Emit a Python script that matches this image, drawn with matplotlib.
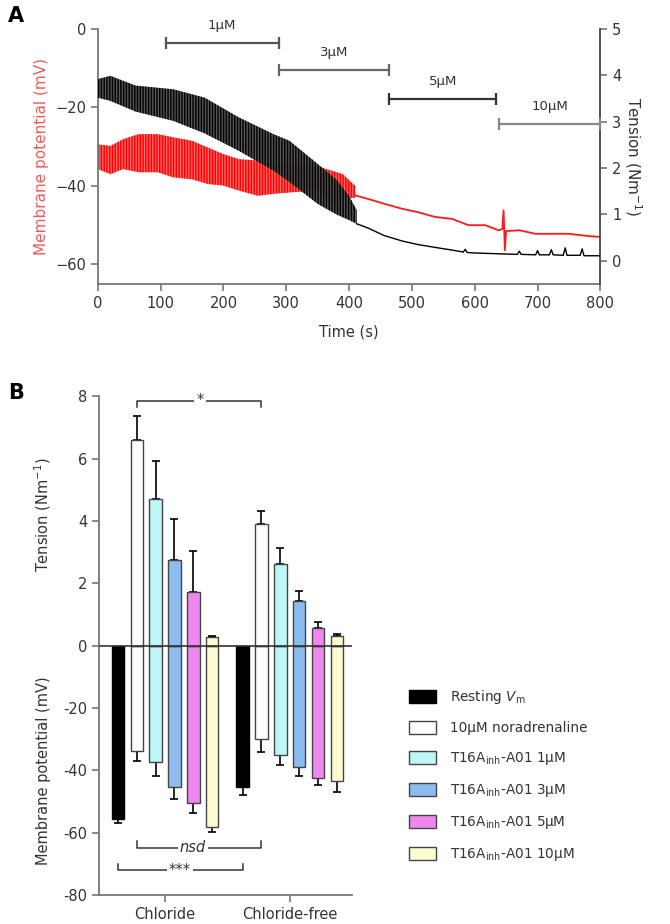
import numpy as np
import matplotlib.pyplot as plt
from matplotlib.patches import Patch
from matplotlib.transforms import blended_transform_factory

plt.rcParams['font.family'] = ['DejaVu Sans']
plt.rcParams['hatch.linewidth'] = 1.1

# ---------------- panel A data ----------------
# tension trace (Nm-1), oscillating part: upper / lower envelope
ten_t = [0, 20, 60, 120, 170, 225, 280, 305, 350, 380, 400, 412]
ten_hi = [3.92, 3.99, 3.78, 3.70, 3.52, 3.09, 2.73, 2.59, 2.09, 1.75, 1.40, 1.10]
ten_lo = [3.52, 3.45, 3.22, 3.02, 2.75, 2.37, 1.94, 1.70, 1.23, 1.00, 0.88, 0.80]
# tension trace, relaxed part
tail_t = [412, 430, 455, 484, 510, 537, 565, 582, 585, 588, 600, 643, 668, 671, 674,
          697, 700, 703, 719, 722, 725, 741, 744, 747, 768, 771, 774, 800]
tail_v = [0.80, 0.71, 0.55, 0.43, 0.35, 0.29, 0.23, 0.19, 0.25, 0.18, 0.17, 0.15, 0.14, 0.21, 0.14,
          0.13, 0.22, 0.13, 0.13, 0.24, 0.13, 0.12, 0.28, 0.12, 0.12, 0.26, 0.11, 0.11]

# membrane potential trace (mV), oscillating part
vm_t = [0, 20, 40, 65, 95, 120, 150, 175, 200, 225, 255, 280, 310, 350, 370, 390, 410]
vm_hi = [-29.4, -29.8, -28.1, -26.8, -26.8, -27.6, -28.5, -30.2, -31.9, -33.2, -33.5,
         -34.0, -34.5, -35.0, -36.0, -37.0, -40.0]
vm_lo = [-35.7, -37.0, -35.7, -36.5, -36.5, -37.8, -38.3, -39.5, -39.9, -41.2, -42.5,
         -42.0, -41.6, -41.2, -44.0, -43.3, -43.0]
# membrane potential, after contraction stops
vm_tail_t = [410, 430, 457, 484, 510, 537, 564, 590, 617, 638, 644, 646, 648, 650,
             671, 697, 724, 750, 777, 800]
vm_tail_v = [-42.4, -43.3, -44.6, -45.8, -46.7, -47.9, -48.4, -50.0, -50.0, -51.3, -51.0,
             -46.2, -56.4, -51.5, -51.3, -52.2, -52.2, -52.2, -52.7, -53.0]

# drug application periods
conc_labels = ['1µM', '3µM', '5µM', '10µM']
conc_start = [108, 288, 464, 639]
conc_end = [288, 464, 634, 800]
conc_level = [4.7, 4.12, 3.5, 2.95]

# ---------------- panel B data ----------------
groups = ['Chloride', 'Chloride-free']
series = [r'Resting $V_{\rm m}$', '10µM noradrenaline',
          r'T16A$_{\rm inh}$-A01 1µM', r'T16A$_{\rm inh}$-A01 3µM',
          r'T16A$_{\rm inh}$-A01 5µM', r'T16A$_{\rm inh}$-A01 10µM']
bar_colors = ['#000000', '#ffffff', '#bdf7f7', '#8dbdf0', '#ee88ee', '#fdfbd2']

vm_cl = [-55.5, -33.7, -37.2, -45.3, -50.4, -58.3]
vm_cl_err = [1.5, 3.2, 4.5, 4.0, 3.2, 1.4]
vm_free = [-45.3, -30.0, -35.0, -38.8, -42.6, -43.3]
vm_free_err = [2.6, 4.0, 3.3, 2.9, 2.1, 3.5]

ten_cl = [0, 6.61, 4.71, 2.75, 1.72, 0.27]
ten_cl_err = [0, 0.75, 1.23, 1.33, 1.33, 0.03]
ten_free = [0, 3.91, 2.61, 1.43, 0.56, 0.32]
ten_free_err = [0, 0.42, 0.52, 0.34, 0.19, 0.04]

fig = plt.figure(figsize=(6.7, 9.24), dpi=100)

# ================= panel A =================
ax = fig.add_axes([0.146, 0.6926, 0.75, 0.276])
ax2 = ax.twinx()

ax.fill_between(vm_t, vm_lo, vm_hi, facecolor='#ff7070', edgecolor='#ff0000',
                hatch='||||||', linewidth=0, zorder=2)
ax.plot(vm_tail_t, vm_tail_v, color='#ff1a1a', lw=1.3, zorder=2)

ax2.fill_between(ten_t, ten_lo, ten_hi, facecolor='#505050', edgecolor='black',
                 hatch='||||||', linewidth=0, alpha=0.95, zorder=3)
ax2.plot(tail_t, tail_v, color='black', lw=1.0, zorder=3)

bar_cols = ['#555555', '#666666', '#333333', '#888888']
for lab, x0, x1, lv, c in zip(conc_labels, conc_start, conc_end, conc_level, bar_cols):
    ax2.plot([x0, x1], [lv, lv], color=c, lw=1.6, marker='|', markersize=9,
             markeredgewidth=1.6, clip_on=False, zorder=5)
    ax2.text((x0 + x1) / 2, lv + 0.37, lab, ha='center', va='center', fontsize=9.5,
             color='#333333', clip_on=False)

ax.set_xlim(0, 800)
ax.set_ylim(-65, 0)
ax2.set_ylim(-0.5, 5)
ax.set_xticks(np.arange(0, 801, 100))
ax.set_yticks([-60, -40, -20, 0])
ax2.set_yticks([0, 1, 2, 3, 4, 5])

for a in (ax, ax2):
    a.spines['top'].set_visible(False)
    for s in a.spines.values():
        s.set_color('#777777')
        s.set_linewidth(1.3)
    a.tick_params(colors='#777777', labelcolor='#333333', labelsize=10.5,
                  length=5, width=1.2)
ax.spines['right'].set_visible(False)
ax2.spines['left'].set_visible(False)
ax2.spines['bottom'].set_visible(False)
ax2.spines['right'].set_color('#444444')

ax.set_xlabel('Time (s)', fontsize=10.5, color='#333333', labelpad=10)
ax.set_ylabel('Membrane potential (mV)', fontsize=11, color='#f25a5a', labelpad=4)
ax2.set_ylabel(r'Tension (Nm$^{-1}$)', fontsize=11, color='#333333', rotation=270,
               labelpad=16)

fig.text(0.012, 0.983, 'A', fontsize=15, fontweight='bold', va='center')
fig.text(0.012, 0.575, 'B', fontsize=15, fontweight='bold', va='center')

# ================= panel B =================
bx = fig.add_axes([0.1478, 0.0314, 0.3776, 0.5396])
xg = np.arange(len(groups))
offs = (np.arange(len(series)) - 2.5) * 0.151
width = 0.1

vm_all = [vm_cl, vm_free]
vm_err_all = [vm_cl_err, vm_free_err]
ten_all = [ten_cl, ten_free]
ten_err_all = [ten_cl_err, ten_free_err]

for i, col in enumerate(bar_colors):
    xs = xg + offs[i]
    vms = [vm_all[g][i] for g in range(2)]
    vme = [vm_err_all[g][i] for g in range(2)]
    ec = 'black' if i == 0 else '#444444'
    bx.bar(xs, vms, width=width, color=col, edgecolor=ec, linewidth=1, zorder=2)
    bx.errorbar(xs, vms, yerr=[vme, [0, 0]], fmt='none', ecolor='black',
                elinewidth=1.2, capsize=3, capthick=1.2, zorder=1)
    if i > 0:
        ts = [ten_all[g][i] * 10 for g in range(2)]
        te = [ten_err_all[g][i] * 10 for g in range(2)]
        bx.bar(xs, ts, width=width, color=col, edgecolor=ec, linewidth=1, zorder=2)
        bx.errorbar(xs, ts, yerr=[[0, 0], te], fmt='none', ecolor='black',
                    elinewidth=1.2, capsize=3, capthick=1.2, zorder=1)

bx.axhline(0, color='#333333', lw=1.2, zorder=3)

bx.set_xlim(-0.53, 1.5)
bx.set_ylim(-80, 80)
bx.set_yticks([-80, -60, -40, -20, 0, 20, 40, 60, 80])
bx.set_yticklabels(['-80', '-60', '-40', '-20', '0', '2', '4', '6', '8'])
bx.set_xticks(xg)
bx.set_xticklabels(groups)
for s in ['top', 'right']:
    bx.spines[s].set_visible(False)
for s in ['left', 'bottom']:
    bx.spines[s].set_color('#777777')
    bx.spines[s].set_linewidth(1.3)
bx.tick_params(colors='#777777', labelcolor='#333333', labelsize=10.5, length=5, width=1.2)

tr = blended_transform_factory(bx.transAxes, bx.transData)
bx.text(-0.221, 42, r'Tension (Nm$^{-1}$)', rotation=90, ha='center', va='center',
        fontsize=10.5, color='#333333', transform=tr)
bx.text(-0.221, -40, 'Membrane potential (mV)', rotation=90, ha='center', va='center',
        fontsize=10.5, color='#333333', transform=tr)

# significance brackets
def bracket(x0, x1, y, tip, label, tx, style='normal'):
    bx.plot([x0, x0, x1, x1], [y + tip, y, y, y + tip], color='#333333', lw=1.1,
            clip_on=False, zorder=4)
    bx.text(tx, y, label, ha='center', va='center', fontsize=10.5, style=style,
            color='#333333', zorder=5,
            bbox=dict(facecolor='white', edgecolor='none', pad=1.5))

bracket(offs[1], 1 + offs[1], 78.6, -1.9, '*', 0.28)
bracket(offs[1], 1 + offs[1], -64.8, 2.2, 'nsd', 0.224, style='italic')
bracket(offs[0], 1 + offs[0], -72, 2.0, '***', 0.12)

handles = [Patch(facecolor=c, edgecolor='black' if i == 0 else '#444444', linewidth=1)
           for i, c in enumerate(bar_colors)]
fig.legend(handles, series, loc='upper left', bbox_to_anchor=(409 / 670, 1 - 688 / 924),
           frameon=False, fontsize=9.8, handlelength=2.0, handleheight=1.15,
           labelspacing=1.1, handletextpad=1.0, borderpad=0, borderaxespad=0,
           labelcolor='#333333')

fig.savefig('out.png', dpi=100)
